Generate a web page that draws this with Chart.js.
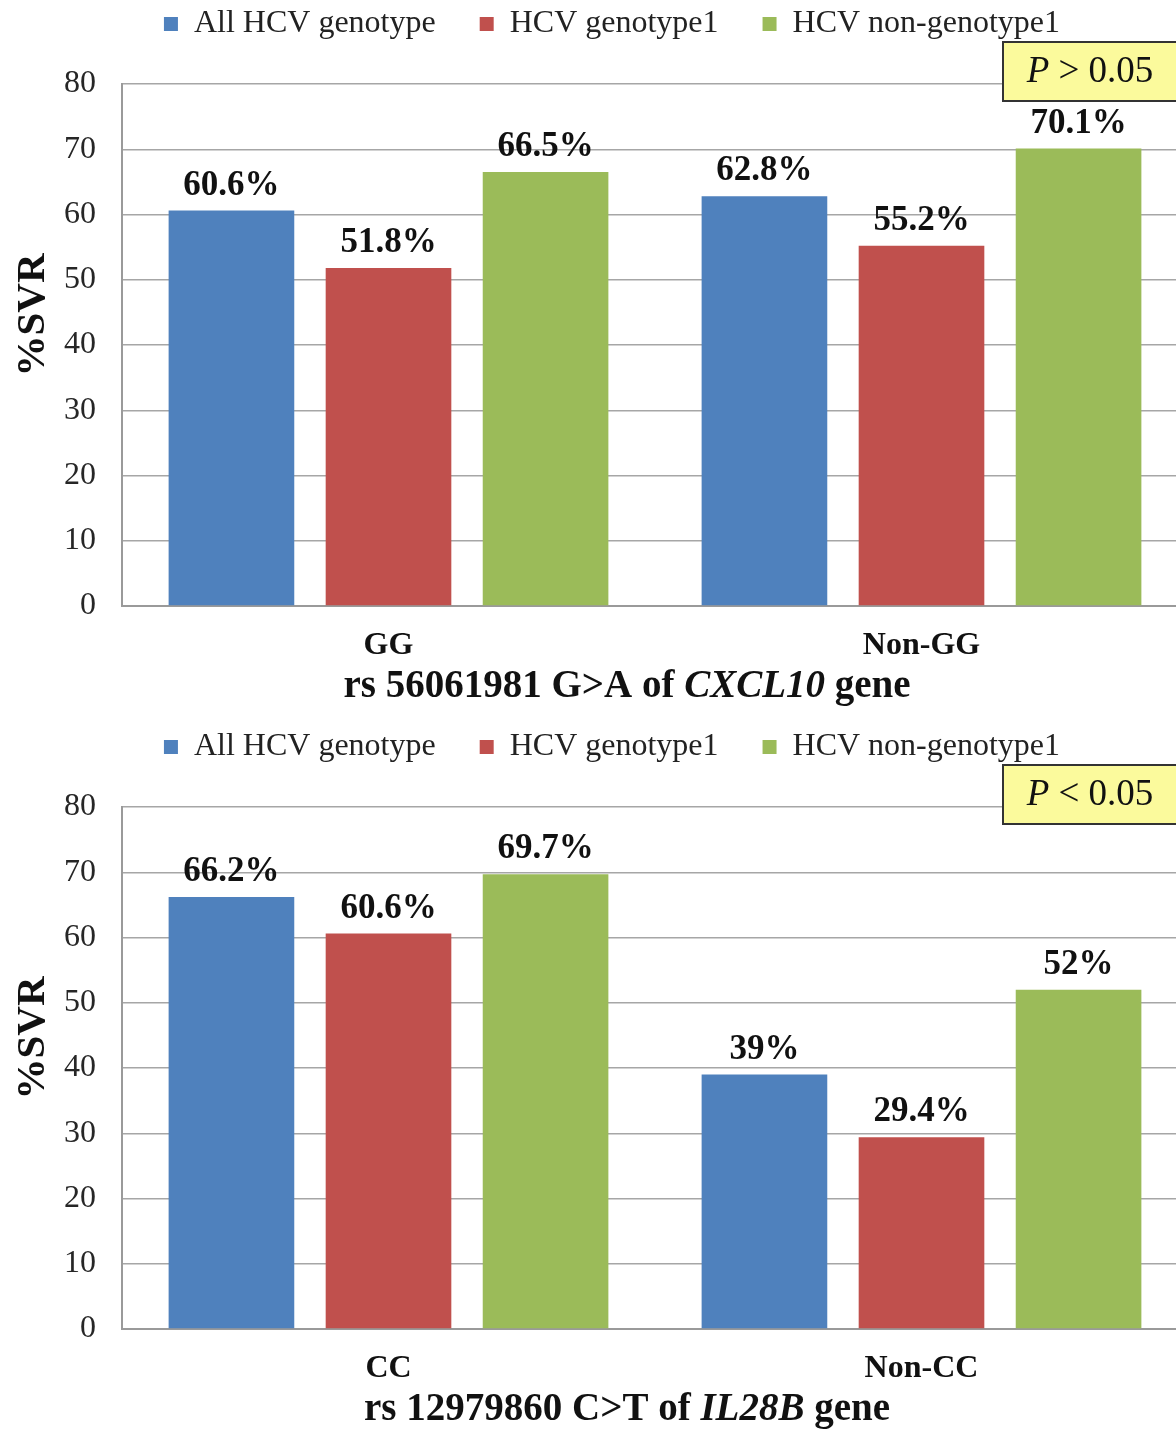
<!DOCTYPE html>
<html>
<head>
<meta charset="utf-8">
<script src="https://cdn.jsdelivr.net/npm/chart.js@4.4.1/dist/chart.umd.min.js"></script>
<style>
  html, body { margin: 0; padding: 0; background: #fff; }
  #page { position: relative; width: 1176px; height: 1429px; overflow: hidden; background: #fff; }
  .panel { position: absolute; left: 0; width: 1192px; height: 723px; }
</style>
</head>
<body>
<div id="page">
  <div class="panel" style="top:0"><canvas id="cxcl10"></canvas></div>
  <div class="panel" style="top:723px"><canvas id="il28b"></canvas></div>
</div>
<script>
// Series shared by both panels
const seriesNames = ['All HCV genotype', 'HCV genotype1', 'HCV non-genotype1'];
const seriesColors = ['#4f81bd', '#c0504d', '#9bbb59'];

// Panel 1: rs 56061981 G>A of CXCL10
const cxcl10Categories = ['GG', 'Non-GG'];
const cxcl10All = [60.6, 62.8];
const cxcl10G1 = [51.8, 55.2];
const cxcl10NonG1 = [66.5, 70.1];

// Panel 2: rs 12979860 C>T of IL28B
const il28bCategories = ['CC', 'Non-CC'];
const il28bAll = [66.2, 39];
const il28bG1 = [60.6, 29.4];
const il28bNonG1 = [69.7, 52];

// Y axis
const yMin = 0;
const yMax = 80;
const yStep = 10;
const yTitle = '%SVR';

const SERIF = '"Liberation Serif", "Times New Roman", serif';

// Draws value labels, axis titles (with italic gene name) and the P-value box
const decorations = {
  id: 'decorations',
  afterDatasetsDraw(chart) {
    const ctx = chart.ctx;
    ctx.save();
    ctx.font = 'bold 35px ' + SERIF;
    ctx.fillStyle = '#111';
    ctx.textAlign = 'center';
    ctx.textBaseline = 'middle';
    chart.data.datasets.forEach((ds, i) => {
      chart.getDatasetMeta(i).data.forEach((bar, j) => {
        ctx.fillText(ds.data[j] + '%', bar.x, bar.y - 25);
      });
    });
    ctx.restore();
  },
  afterDraw(chart, args, opts) {
    const ctx = chart.ctx;
    const area = chart.chartArea;

    // Y axis title
    ctx.save();
    ctx.translate(33, 315);
    ctx.rotate(-Math.PI / 2);
    ctx.font = 'bold 41px ' + SERIF;
    ctx.fillStyle = '#111';
    ctx.textAlign = 'center';
    ctx.textBaseline = 'middle';
    ctx.fillText(yTitle, 0, 0);
    ctx.restore();

    // X axis title, mixed upright / italic runs
    ctx.save();
    ctx.fillStyle = '#111';
    ctx.textBaseline = 'middle';
    ctx.textAlign = 'left';
    const fontFor = p => (p.italic ? 'italic ' : '') + 'bold 39px ' + SERIF;
    let total = 0;
    opts.titleParts.forEach(p => { ctx.font = fontFor(p); total += ctx.measureText(p.text).width; });
    let x = 627 - total / 2;
    const ty = area.bottom + 81;
    opts.titleParts.forEach(p => {
      ctx.font = fontFor(p);
      ctx.fillText(p.text, x, ty);
      x += ctx.measureText(p.text).width;
    });
    ctx.restore();

    // P-value box
    ctx.save();
    ctx.fillStyle = '#fbfa9c';
    ctx.strokeStyle = '#333';
    ctx.lineWidth = 2;
    const bx = 1003, by = area.top - 42, bw = 220, bh = 59;
    ctx.fillRect(bx, by, bw, bh);
    ctx.strokeRect(bx, by, bw, bh);
    ctx.fillStyle = '#111';
    ctx.textBaseline = 'middle';
    ctx.textAlign = 'left';
    ctx.font = 'italic 37px ' + SERIF;
    const pW = ctx.measureText('P').width;
    ctx.font = '37px ' + SERIF;
    const rest = ' ' + opts.pRelation + ' 0.05';
    const rW = ctx.measureText(rest).width;
    let px = 1090 - (pW + rW) / 2;
    const py = by + bh / 2 + 1;
    ctx.font = 'italic 37px ' + SERIF;
    ctx.fillText('P', px, py);
    ctx.font = '37px ' + SERIF;
    ctx.fillText(rest, px + pW, py);
    ctx.restore();
  }
};

function buildPanel(canvasId, categories, all, g1, nonG1, titleParts, pRelation) {
  const values = [all, g1, nonG1];
  return new Chart(document.getElementById(canvasId), {
    type: 'bar',
    data: {
      labels: categories,
      datasets: values.map((v, i) => ({
        label: seriesNames[i],
        data: v,
        backgroundColor: seriesColors[i],
        borderWidth: 0
      }))
    },
    options: {
      responsive: true,
      maintainAspectRatio: false,
      animation: false,
      devicePixelRatio: 1,
      layout: { padding: { top: -36, left: 36, right: 4, bottom: 0 } },
      datasets: { bar: { categoryPercentage: 0.884, barPercentage: 0.80 } },
      plugins: {
        legend: {
          position: 'top',
          labels: {
            font: { family: SERIF, size: 32, lineHeight: 1 },
            color: '#222',
            boxWidth: 14,
            boxHeight: 14,
            padding: 44
          }
        },
        title: {
          display: true,
          text: '',
          weight: 500,
          position: 'top',
          font: { size: 1, lineHeight: 1 },
          padding: { top: 33, bottom: 0 }
        },
        tooltip: { enabled: false },
        decorations: { titleParts: titleParts, pRelation: pRelation }
      },
      scales: {
        x: {
          grid: { display: false },
          border: { display: true, color: '#9a9a9a', width: 2 },
          ticks: { font: { family: SERIF, size: 32, weight: 'bold' }, color: '#111', padding: 13 },
          afterFit(scale) { scale.height = 117; }
        },
        y: {
          min: yMin,
          max: yMax,
          ticks: { stepSize: yStep, font: { family: SERIF, size: 32 }, color: '#262626', padding: 26 },
          grid: { color: '#a6a6a6', lineWidth: 1.5, drawTicks: false },
          border: { color: '#9a9a9a', width: 2 },
          afterFit(scale) { scale.width = 86; }
        }
      }
    },
    plugins: [decorations]
  });
}

buildPanel('cxcl10', cxcl10Categories, cxcl10All, cxcl10G1, cxcl10NonG1,
  [{ text: 'rs 56061981 G>A of ', italic: false }, { text: 'CXCL10', italic: true }, { text: ' gene', italic: false }],
  '>');
buildPanel('il28b', il28bCategories, il28bAll, il28bG1, il28bNonG1,
  [{ text: 'rs 12979860 C>T of ', italic: false }, { text: 'IL28B', italic: true }, { text: ' gene', italic: false }],
  '<');
</script>
</body>
</html>
